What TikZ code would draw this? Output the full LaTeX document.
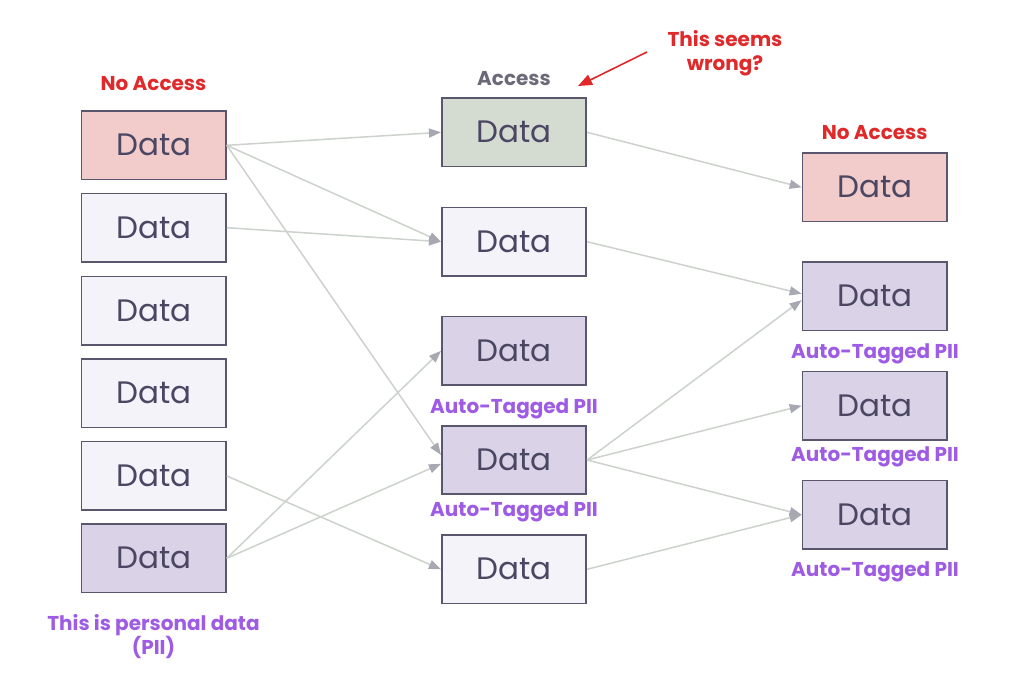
\documentclass[tikz,border=0pt]{standalone}
\usepackage{fontspec}
\setmainfont{Poppins}
\usetikzlibrary{arrows.meta}
\definecolor{boxline}{HTML}{5A566E}
\definecolor{datatext}{HTML}{4B4763}
\definecolor{fillpink}{HTML}{F2CBCB}
\definecolor{fillgreen}{HTML}{D4DCD2}
\definecolor{fillpurple}{HTML}{DAD3E8}
\definecolor{fillwhite}{HTML}{F4F3F9}
\definecolor{linkcol}{HTML}{CCD2CC}
\definecolor{tipcol}{HTML}{A8A8B2}
\definecolor{redlbl}{HTML}{E0292A}
\definecolor{purplbl}{HTML}{9E5BE3}
\definecolor{graylbl}{HTML}{6C6A78}
\begin{document}
\begin{tikzpicture}[x=1pt,y=-1pt,
  databox/.style={draw=boxline, line width=1.6pt, minimum width=144.5pt,
    minimum height=68.5pt, inner sep=0pt, text=datatext,
    font=\fontsize{31}{36}\selectfont},
  pinkbox/.style={databox, fill=fillpink},
  greenbox/.style={databox, fill=fillgreen},
  purplebox/.style={databox, fill=fillpurple},
  plainbox/.style={databox, fill=fillwhite},
  lbl/.style={anchor=base, font=\bfseries\fontsize{20}{24}\selectfont, inner sep=0pt},
  redlabel/.style={lbl, text=redlbl},
  purplabel/.style={lbl, text=purplbl},
  graylabel/.style={lbl, text=graylbl},
  link/.style={draw=linkcol, line width=1.5pt,
    -{Triangle[length=12pt,width=9pt,fill=tipcol,color=tipcol]}},
  note/.style={draw=redlbl, line width=1.6pt,
    -{Triangle[length=14pt,width=11pt]}}
]
\useasboundingbox[fill=white] (0,0) rectangle (1014,694);

% left column
\node[pinkbox]   (L1) at (153.7,145.3) {Data};
\node[plainbox]  (L2) at (153.7,227.7) {Data};
\node[plainbox]  (L3) at (153.7,310.7) {Data};
\node[plainbox]  (L4) at (153.7,393.3) {Data};
\node[plainbox]  (L5) at (153.7,475.9) {Data};
\node[purplebox] (L6) at (153.7,558.3) {Data};

% middle column
\node[greenbox]  (M1) at (514,132.3) {Data};
\node[plainbox]  (M2) at (514,241.7) {Data};
\node[purplebox] (M3) at (514,350.9) {Data};
\node[purplebox] (M4) at (514,460.0) {Data};
\node[plainbox]  (M5) at (514,569.3) {Data};

% right column
\node[pinkbox]   (R1) at (874.7,187.3) {Data};
\node[purplebox] (R2) at (874.7,296.3) {Data};
\node[purplebox] (R3) at (874.7,405.7) {Data};
\node[purplebox] (R4) at (874.7,514.7) {Data};

% labels
\node[redlabel]  (tL) at (153.5,90) {No Access};
\node[graylabel] (tM) at (514,85) {Access};
\node[redlabel]  (tR) at (874.7,139.3) {No Access};
\node[redlabel, align=center] (tW) at (725,70) {This seems\\wrong?};
\node[purplabel] (p3) at (514,413.3) {Auto-Tagged PII};
\node[purplabel] (p4) at (514,516.7) {Auto-Tagged PII};
\node[purplabel] (p6) at (875,358.3) {Auto-Tagged PII};
\node[purplabel] (p7) at (875,461.7) {Auto-Tagged PII};
\node[purplabel] (p8) at (875,576) {Auto-Tagged PII};
\node[purplabel, align=center] (pL) at (153.5,654) {This is personal data\\(PII)};

% annotation arrow
\coordinate (wtail) at (647,52);
\coordinate (whead) at (578,86);
\draw[note] (wtail) -- (whead);

% connectors
\draw[link] (L1.east) -- (M1.west);
\draw[link] (L1.east) -- (M2.west);
\draw[link] (L1.east) -- (M4.176);
\draw[link] (L2.east) -- (M2.west);
\draw[link] (L5.east) -- (M5.west);
\draw[link] (L6.east) -- (M3.west);
\draw[link] (L6.east) -- (M4.183);
\draw[link] (M1.east) -- (R1.west);
\draw[link] (M2.east) -- (R2.178);
\draw[link] (M4.east) -- (R2.183);
\draw[link] (M4.east) -- (R3.west);
\draw[link] (M4.east) -- (R4.west);
\draw[link] (M5.east) -- (R4.west);
\end{tikzpicture}
\end{document}
